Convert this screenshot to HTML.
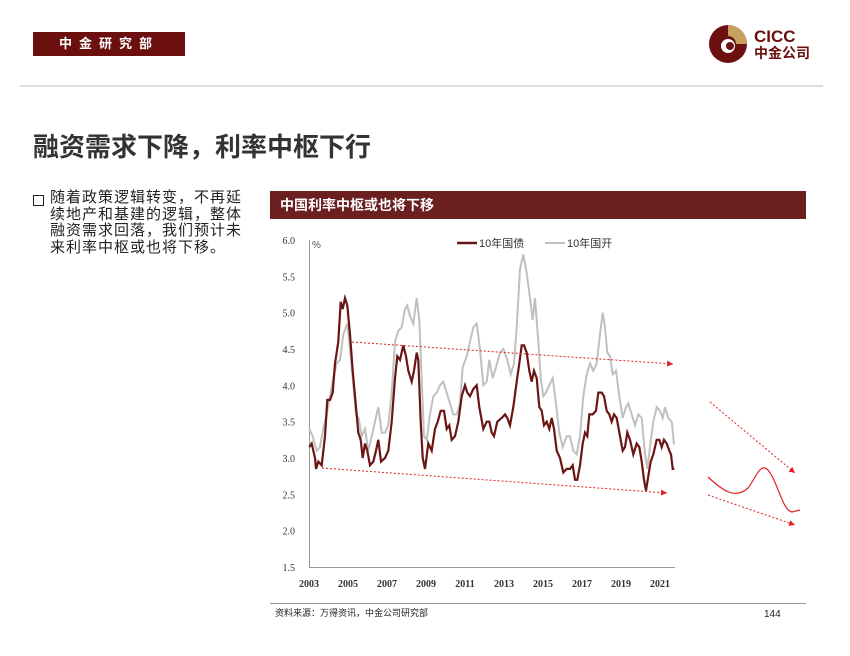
<!DOCTYPE html>
<html><head><meta charset="utf-8"><style>
body{margin:0;width:850px;height:656px;background:#fff;position:relative;overflow:hidden;font-family:"Liberation Sans","Noto Sans CJK SC",sans-serif}
.a{position:absolute}
</style></head><body>
<div class="a" style="left:33px;top:32px;width:152px;height:24px;background:#6b0f0f;color:#fff;font-size:13px;font-weight:bold;line-height:24px;text-align:center;letter-spacing:7px">中金研究部</div>
<div class="a" style="left:20px;top:85px;width:803px;height:2px;background:#ddd"></div>
<svg class="a" style="left:708px;top:24px" width="40" height="40"><circle cx="20" cy="20" r="19" fill="#6b0f0f"/><path d="M20 1 A19 19 0 0 1 39 20 L28 20 A8 8 0 0 0 20 12 Z" fill="#c8a060"/><circle cx="20" cy="22" r="7" fill="#fff"/><circle cx="22" cy="22" r="4" fill="#6b0f0f"/></svg>
<div class="a" style="left:754px;top:28px;font-size:17px;font-weight:bold;color:#6b0f0f;line-height:17px">CICC</div>
<div class="a" style="left:754px;top:45px;font-size:14px;font-weight:bold;color:#6b0f0f;line-height:16px">中金公司</div>
<div class="a" style="left:33px;top:127px;font-size:26px;font-weight:bold;color:#333">融资需求下降，利率中枢下行</div>
<div class="a" style="left:33px;top:195px;width:9px;height:9px;border:1.5px solid #222"></div>
<div class="a" style="left:50px;top:190px;width:220px;font-size:15px;letter-spacing:1px;line-height:16.5px;color:#222;white-space:nowrap">随着政策逻辑转变，不再延<br>续地产和基建的逻辑，整体<br>融资需求回落，我们预计未<br>来利率中枢或也将下移。</div>
<div class="a" style="left:270px;top:191px;width:536px;height:28px;background:#6b1f1f;color:#fff;font-size:14px;font-weight:bold;line-height:28px;padding-left:10px;box-sizing:border-box">中国利率中枢或也将下移</div>
<div class="a" style="left:270px;top:603px;width:536px;height:1px;background:#999"></div>
<div class="a" style="left:275px;top:606px;font-size:9px;color:#222">资料来源：万得资讯，中金公司研究部</div>
<div class="a" style="left:764px;top:609px;font-size:10px;color:#222">144</div>
<svg class="a" style="left:0;top:0" width="850" height="656" id="s">
<defs><marker id="m" markerWidth="8" markerHeight="8" refX="6" refY="3" orient="auto"><path d="M0 0 L6 3 L0 6Z" fill="#e02020"/></marker></defs>
<g font-size="10" fill="#333" font-family="Liberation Serif,serif" text-anchor="end" id="yt"></g>
<g font-size="10" fill="#333" font-family="Liberation Serif,serif" text-anchor="middle" font-weight="bold" id="xt"></g>
<line x1="309.5" y1="240" x2="309.5" y2="567" stroke="#999"/>
<line x1="309" y1="567.5" x2="675" y2="567.5" stroke="#999"/>
<text x="312" y="248" font-size="10" fill="#555">%</text>
<polyline id="g2" fill="none" stroke="#c0c0c0" stroke-width="2"/>
<polyline id="g1" fill="none" stroke="#6b1515" stroke-width="2.2"/>
<line x1="457" y1="243" x2="477" y2="243" stroke="#6b1515" stroke-width="2.5"/>
<text x="479" y="247" font-size="11" fill="#333">10年国债</text>
<line x1="545" y1="243" x2="565" y2="243" stroke="#c0c0c0" stroke-width="2"/>
<text x="567" y="247" font-size="11" fill="#333">10年国开</text>
<g stroke="#e02020" stroke-dasharray="2,2" fill="none" marker-end="url(#m)">
<line x1="352" y1="342" x2="673" y2="364"/>
<line x1="322" y1="468" x2="667" y2="493"/>
<line x1="710" y1="402" x2="795" y2="473"/>
<line x1="708" y1="495" x2="795" y2="525"/>
</g>
<path d="M708 477 C722 490 735 500 748 488 C756 478 760 462 768 470 C778 482 782 510 792 512 L800 510" stroke="#e02020" fill="none" stroke-width="1.2"/>
</svg>
<script>
var g1=[118,3.15,125,3.2,135,3.0,138,2.85,145,2.95,155,2.9,165,3.3,172,3.8,180,3.8,188,3.9,195,4.3,205,4.6,212,5.15,218,5.05,225,5.2,232,5.1,240,4.7,248,4.2,258,3.7,265,3.35,272,3.25,278,3.0,285,3.2,292,3.1,300,2.9,310,2.95,318,3.1,325,3.25,333,2.95,345,3.0,355,3.1,365,3.5,375,4.1,382,4.4,390,4.35,400,4.55,408,4.4,415,4.2,425,4.05,432,4.2,440,4.45,445,4.35,452,3.5,458,3.0,465,2.85,475,3.2,485,3.1,495,3.4,503,3.5,512,3.65,522,3.65,530,3.4,538,3.45,545,3.25,555,3.3,565,3.5,575,3.85,585,4.0,592,3.9,600,3.85,610,3.95,620,4.0,628,3.7,640,3.4,650,3.5,658,3.5,665,3.35,672,3.3,682,3.5,695,3.55,705,3.6,712,3.55,720,3.45,730,3.7,740,4.05,748,4.3,755,4.55,762,4.55,770,4.45,778,4.2,785,4.05,792,4.2,800,4.1,808,3.7,815,3.65,822,3.45,830,3.5,838,3.4,845,3.55,852,3.4,860,3.1,870,3.0,880,2.8,890,2.85,900,2.85,908,2.9,915,2.7,922,2.7,930,2.9,938,3.2,945,3.35,952,3.3,958,3.6,968,3.6,978,3.65,985,3.9,995,3.9,1002,3.85,1010,3.65,1018,3.6,1025,3.5,1032,3.6,1040,3.55,1050,3.3,1058,3.1,1065,3.15,1072,3.35,1080,3.25,1090,3.05,1100,3.2,1108,3.15,1115,2.95,1122,2.7,1128,2.55,1135,2.75,1142,2.95,1150,3.05,1160,3.25,1168,3.25,1175,3.15,1182,3.25,1190,3.2,1198,3.1,1203,3.05,1208,2.85,1213,2.85];
var g2=[118,3.4,128,3.3,140,3.1,150,3.15,160,3.4,170,3.6,180,3.85,190,4.1,200,4.3,210,4.35,220,4.7,232,4.85,240,4.5,250,4.0,258,3.6,266,3.55,275,3.3,285,3.4,295,3.1,305,3.3,315,3.5,325,3.7,335,3.35,345,3.35,355,3.45,365,3.9,375,4.6,385,4.75,395,4.8,405,5.05,412,5.1,420,4.95,430,4.85,440,5.2,448,4.9,455,4.1,462,3.3,470,3.25,480,3.6,490,3.85,500,3.9,510,4.0,520,4.05,530,3.9,540,3.75,550,3.6,560,3.6,570,3.75,578,4.25,590,4.4,600,4.6,610,4.8,620,4.85,630,4.5,640,4.0,650,4.05,658,4.35,668,4.1,678,4.25,690,4.45,700,4.5,712,4.35,722,4.15,732,4.3,740,4.8,750,5.6,760,5.8,770,5.55,780,5.2,788,4.9,795,5.2,805,4.6,812,4.1,820,3.85,828,3.9,838,4.0,848,4.1,858,3.75,868,3.35,878,3.15,890,3.3,900,3.3,910,3.1,920,3.05,930,3.3,940,3.85,950,4.15,960,4.3,970,4.2,980,4.3,990,4.7,998,5.0,1005,4.8,1012,4.45,1020,4.4,1028,4.15,1038,4.2,1048,3.85,1058,3.55,1068,3.7,1075,3.75,1085,3.6,1095,3.45,1105,3.6,1115,3.55,1125,3.05,1132,2.85,1140,3.15,1150,3.5,1160,3.7,1170,3.65,1178,3.55,1185,3.7,1195,3.55,1205,3.5,1212,3.2,1215,3.2];
function pts(a){var s=[];for(var i=0;i<a.length;i+=2)s.push((270+a[i]/3).toFixed(1)+","+(240+(6-a[i+1])*72.67).toFixed(1));return s.join(" ");}
document.getElementById("g1").setAttribute("points",pts(g1));
document.getElementById("g2").setAttribute("points",pts(g2));
var ns="http://www.w3.org/2000/svg",yt=document.getElementById("yt"),xt=document.getElementById("xt");
for(var v=1.5;v<=6.01;v+=0.5){var t=document.createElementNS(ns,"text");t.setAttribute("x",295);t.setAttribute("y",240+(6-v)*72.67+4);t.textContent=v.toFixed(1);yt.appendChild(t);}
for(var yr=2003;yr<=2021;yr+=2){var t=document.createElementNS(ns,"text");t.setAttribute("x",309+(yr-2003)*19.5);t.setAttribute("y",587);t.textContent=yr;xt.appendChild(t);}
</script>
</body></html>
